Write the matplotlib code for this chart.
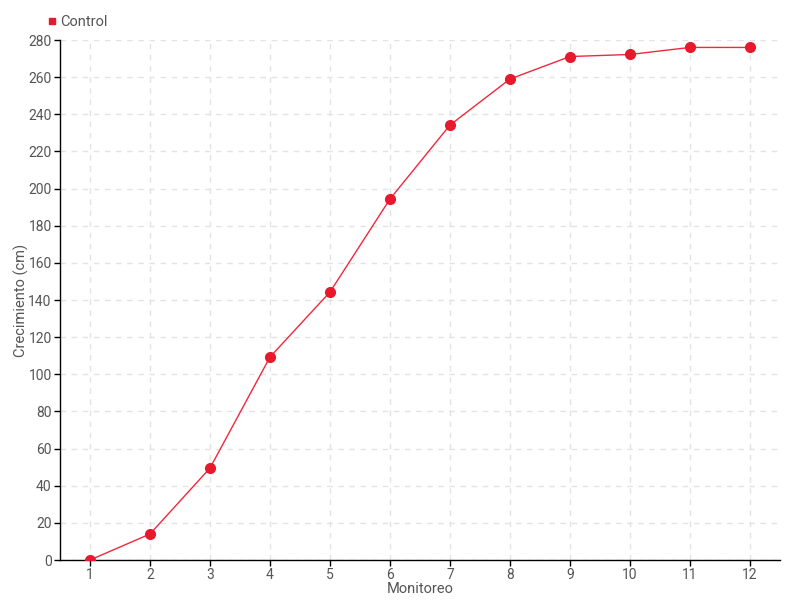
import matplotlib
matplotlib.use("Agg")
import matplotlib.pyplot as plt
from matplotlib.lines import Line2D

plt.rcParams['font.family'] = ['Roboto', 'DejaVu Sans']

monitoreo = [1, 2, 3, 4, 5, 6, 7, 8, 9, 10, 11, 12]
control = [0, 14, 49.5, 109.3, 144.3, 194.4, 234.2, 259, 271.1, 272.2, 276, 276]
yticks = list(range(0, 281, 20))

fig = plt.figure(figsize=(8, 6), dpi=100)
ax = fig.add_axes([60/800, 40/600, 720/800, 520/600])

ax.plot(monitoreo, control, color='#f0283c', lw=1, marker='o', ms=7,
        markerfacecolor='#e8192c', markeredgecolor='#e8192c', zorder=3)

ax.set_xlim(0.5, 12.5)
ax.set_ylim(0, 280)
ax.set_xticks(monitoreo)
ax.set_xticklabels([str(m) for m in monitoreo])
ax.set_yticks(yticks)
ax.grid(True, color='#e3e3e3', linestyle=(0, (4, 4)), lw=1)
ax.set_axisbelow(True)
for s in ['top', 'right']:
    ax.spines[s].set_visible(False)
for s in ['left', 'bottom']:
    ax.spines[s].set_color('black')
    ax.spines[s].set_linewidth(1)
ax.tick_params(axis='both', colors='black', labelcolor='#555555', labelsize=10, length=4, width=1, pad=2)
ax.set_xlabel('Monitoreo', color='#555555', fontsize=10.5, labelpad=0)
ax.set_ylabel('Crecimiento (cm)', color='#555555', fontsize=10.5)
ax.yaxis.set_label_coords(-31/720, 0.5)

handle = Line2D([], [], color='#e8192c', marker='s', ms=5, lw=0)
fig.legend([handle], ['Control'], loc='upper left', bbox_to_anchor=(48/800, 1 - 15/600),
           frameon=False, fontsize=10.5, handlelength=0.6, handletextpad=0.2, labelcolor='#555555',
           borderaxespad=0, borderpad=0)

fig.savefig('out.png', dpi=100)
